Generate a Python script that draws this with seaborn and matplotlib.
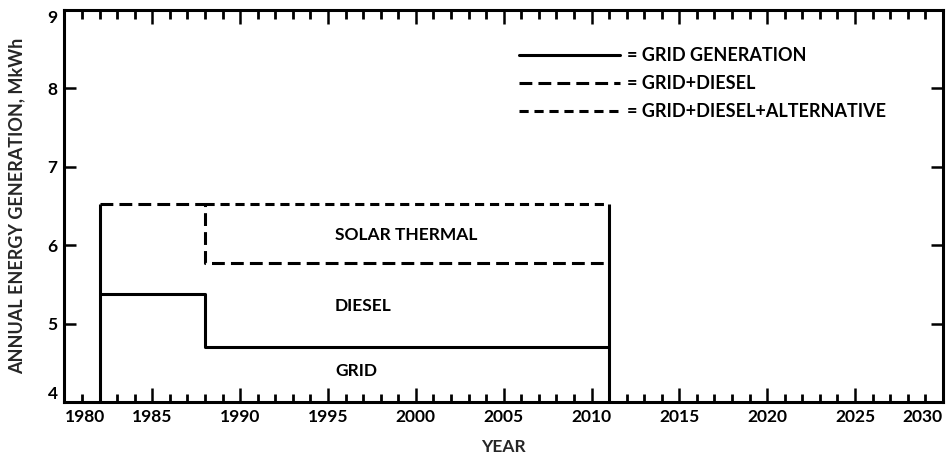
import numpy as np
import pandas as pd
import matplotlib
matplotlib.use("Agg")
import matplotlib.pyplot as plt
from matplotlib.ticker import FixedLocator, NullFormatter
import seaborn as sns

# Annual energy generation (MkWh) by supply scenario, step changes at the listed years
years = [1982, 1988, 2011]
grid_generation = [5.38, 4.70, 4.70]
grid_diesel = [6.53, 5.77, 5.77]
grid_diesel_alternative = [6.53, 6.53, 6.53]

band_labels = ["SOLAR THERMAL", "DIESEL", "GRID"]
band_label_y = [6.13, 5.22, 4.39]
band_label_x = 1995.4

legend_labels = ["= GRID GENERATION", "= GRID+DIESEL", "= GRID+DIESEL+ALTERNATIVE"]

x_ticks = [1980, 1985, 1990, 1995, 2000, 2005, 2010, 2015, 2020, 2025, 2030]
y_ticks = [4, 5, 6, 7, 8, 9]

sns.set_theme(style="ticks")
plt.rcParams["font.family"] = ["Lato", "DejaVu Sans"]
plt.rcParams["font.weight"] = "bold"
plt.rcParams["axes.labelweight"] = "bold"
plt.rcParams["text.color"] = "black"
plt.rcParams["xtick.direction"] = "in"
plt.rcParams["ytick.direction"] = "in"
plt.rcParams["axes.axisbelow"] = False

fig = plt.figure(figsize=(9.48, 4.59), dpi=100)
ax = fig.add_axes([0.068, 0.1242, 0.9266, 0.8538])

lw = 2.2
# Alternative-energy line is only drawn where it rises above grid+diesel
alt_mask = np.array(grid_diesel_alternative) > np.array(grid_diesel)
first_alt = int(np.argmax(alt_mask))
alt_df = pd.DataFrame({"year": years[first_alt:],
                       "value": grid_diesel_alternative[first_alt:]})
grid_df = pd.DataFrame({"year": years, "value": grid_generation})
gd_df = pd.DataFrame({"year": years, "value": grid_diesel})

sns.lineplot(data=grid_df, x="year", y="value", ax=ax, color="black", lw=lw,
             drawstyle="steps-post", label=legend_labels[0], errorbar=None)
sns.lineplot(data=gd_df, x="year", y="value", ax=ax, color="black", lw=lw,
             drawstyle="steps-post", linestyle=(0, (4.2, 2.0)),
             label=legend_labels[1], errorbar=None)
sns.lineplot(data=alt_df, x="year", y="value", ax=ax, color="black", lw=lw,
             drawstyle="steps-post", linestyle=(0, (3.0, 1.9)),
             label=legend_labels[2], errorbar=None)

ymin, ymax = y_ticks[0], y_ticks[-1]
# Solid boundaries at the start and end of the study period
ax.vlines([years[0], years[-1]], ymin, grid_diesel_alternative[0],
          color="black", lw=lw)

for lab, yv in zip(band_labels, band_label_y):
    ax.text(band_label_x, yv, lab, fontsize=12.5, ha="left", va="center")

ax.set_xlim(x_ticks[0], x_ticks[-1])
ax.set_ylim(ymin, ymax)

# Five-year major ticks with labels, a minor tick every year
minor_years = [v for v in range(x_ticks[0], x_ticks[-1] + 1) if v not in x_ticks]
ax.set_xticks(x_ticks)
ax.set_xticklabels([str(v) for v in x_ticks], fontsize=12.5)
ax.xaxis.set_minor_locator(FixedLocator(minor_years))
ax.xaxis.set_minor_formatter(NullFormatter())
ax.set_yticks(y_ticks)
ax.set_yticklabels([str(v) for v in y_ticks], fontsize=12.5)

ax.tick_params(axis="x", which="major", direction="in", length=10, width=1.8,
               top=True, bottom=True, pad=5, colors="black")
ax.tick_params(axis="x", which="minor", direction="in", length=6.5, width=2.0,
               top=True, bottom=False, color="black")
ax.tick_params(axis="y", which="major", direction="in", length=8.5, width=1.8,
               left=True, right=True, pad=5, colors="black")
ax.tick_params(axis="y", which="minor", left=False, right=False)

# Yearly tick marks along the bottom edge, rising from the axis line
ax.vlines(minor_years, 0, 0.02, transform=ax.get_xaxis_transform(),
          color="black", lw=2.0, clip_on=False, zorder=4)

ax.xaxis.set_zorder(3)
ax.yaxis.set_zorder(3)

xl = ax.get_xticklabels()
xl[0].set_ha("left")
xl[-1].set_ha("right")
yl = ax.get_yticklabels()
yl[0].set_va("bottom")
yl[-1].set_va("top")

for s in ax.spines.values():
    s.set_visible(True)
    s.set_linewidth(2.2)
    s.set_color("black")

ax.set_xlabel("YEAR", fontsize=12.5, labelpad=10)
ax.set_ylabel("ANNUAL ENERGY GENERATION, MkWh", fontsize=13, labelpad=16)

leg = ax.legend(loc="upper left", bbox_to_anchor=(0.517, 0.905), frameon=False,
                fontsize=13, handlelength=5.6, handletextpad=0.42,
                labelspacing=0.6, borderpad=0, borderaxespad=0)
for t in leg.get_texts():
    t.set_color("black")

fig.savefig("out.png", dpi=100)
